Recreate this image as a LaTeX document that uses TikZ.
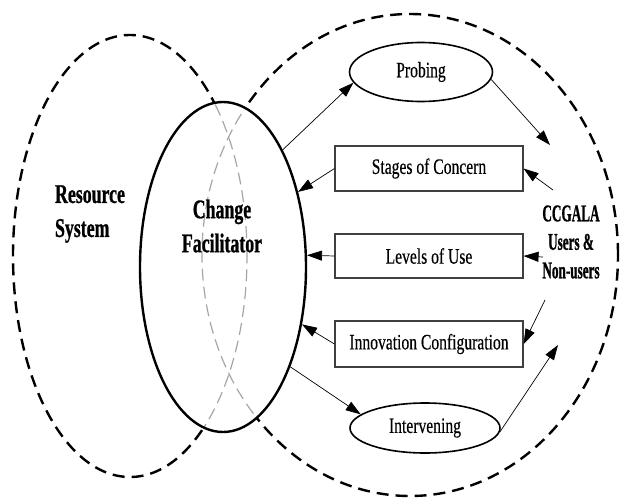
\documentclass[tikz,border=0pt]{standalone}
\usepackage{fontspec}
\setmainfont{Liberation Serif}
\newfontfamily\boxfont{Liberation Serif}[FakeStretch=0.71,FakeBold=0.4]
\newfontfamily\headfont{Liberation Serif}[FakeStretch=0.66,FakeBold=0.8]
\newfontfamily\userfont{Liberation Serif}[FakeStretch=0.55,FakeBold=0.8]
\usetikzlibrary{shapes.geometric,arrows.meta}
\begin{document}
\begin{tikzpicture}[x=1pt,y=-1pt,
  bigdash/.style={line width=2.4pt, dash pattern=on 12pt off 7pt},
  innerdash/.style={line width=1.2pt, draw=gray!70, dash pattern=on 12pt off 6pt},
  stagebox/.style={draw=black!75, line width=1.1pt, rectangle, minimum width=188pt, minimum height=45pt, inner sep=0pt, font=\boxfont\fontsize{22}{26}\selectfont},
  oval/.style={draw, line width=1.6pt, ellipse, inner sep=0pt, font=\boxfont\fontsize{22}{26}\selectfont},
  conn/.style={line width=0.7pt, -{Triangle[length=15pt,width=10pt]}},
  headlbl/.style={font=\headfont\bfseries\fontsize{27}{34}\selectfont, inner sep=0pt},
  userlbl/.style={font=\userfont\bfseries\fontsize{24}{28.5}\selectfont, inner sep=0pt, align=center},
]
\useasboundingbox (0,0) rectangle (621,498);
% dashed system ellipses, black outside the facilitator
\begin{scope}[even odd rule]
  \clip (0,0) rectangle (621,498) (223,267) ellipse [x radius=83pt, y radius=165pt];
  \draw[bigdash] (130,256) ellipse [x radius=117pt, y radius=221pt];
  \draw[bigdash] (410,255) ellipse [x radius=208pt, y radius=241pt];
\end{scope}
% grey inside the facilitator
\begin{scope}
  \clip (223,267) ellipse [x radius=83pt, y radius=165pt];
  \draw[innerdash] (130,256) ellipse [x radius=117pt, y radius=221pt];
  \draw[innerdash] (410,255) ellipse [x radius=208pt, y radius=241pt];
\end{scope}
\node[draw, ellipse, line width=2.4pt, minimum width=166pt, minimum height=330pt, inner sep=0pt] (cf) at (223,267) {};

\node[oval, minimum width=143pt, minimum height=59pt] (probing) at (421,72) {Probing};
\node[stagebox] (soc) at (429,168.5) {Stages of Concern};
\node[stagebox, minimum height=44pt] (lou) at (429,256) {Levels of Use};
\node[stagebox, minimum height=46pt] (ic) at (429,344) {Innovation Configuration};
\node[oval, minimum width=150pt, minimum height=50pt] (interv) at (425,428) {Intervening};

\coordinate (pEnd) at (550,145);
\coordinate (sStart) at (553,190);
\coordinate (lStart) at (543,257);
\coordinate (iStart) at (545,300);
\coordinate (vEnd) at (558,345);

\draw[conn] (cf.63) -- (probing.189);
\draw[conn] (probing.-6) -- (pEnd);
\draw[conn] (sStart) -- (soc.east);
\draw[conn] (soc.west) -- (cf.45);
\draw[conn] (lStart) -- (lou.east);
\draw[conn] (lou.west) -- (cf.8);
\draw[conn] (iStart) -- (ic.east);
\draw[conn] (ic.west) -- (cf.-36);
\draw[conn] (cf.-56) -- (interv.168);
\draw[conn] (interv.-3) -- (vEnd);

\node[headlbl, align=left] (rs) at (90,214) {Resource\\System};
\node[headlbl, align=center] (cfl) at (222,226) {Change\\Facilitator};
\node[userlbl] (users) at (571,242) {CCGALA\\Users \&\\Non-users};
\end{tikzpicture}
\end{document}
